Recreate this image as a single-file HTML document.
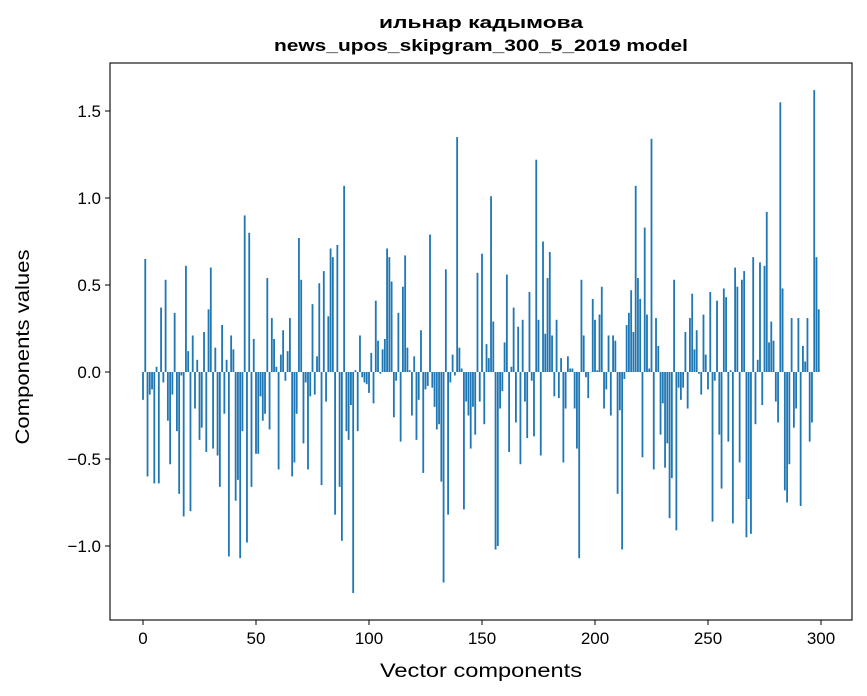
<!DOCTYPE html>
<html><head><meta charset="utf-8"><style>
html,body{margin:0;padding:0;background:#fff;}
svg{display:block;font-family:"Liberation Sans","DejaVu Sans",sans-serif;}
</style></head><body>
<svg id="chart" width="867" height="696" viewBox="0 0 867 696" xmlns="http://www.w3.org/2000/svg">
<rect width="867" height="696" fill="#fff"/>
<text x="481" y="28" text-anchor="middle" font-size="16.5" font-weight="bold" textLength="204" lengthAdjust="spacingAndGlyphs">ильнар кадымова</text>
<text x="481" y="51" text-anchor="middle" font-size="16.5" font-weight="bold" textLength="414" lengthAdjust="spacingAndGlyphs">news_upos_skipgram_300_5_2019 model</text>
<g id="bars"></g>
<g id="axes"></g>
<rect x="110" y="63" width="742" height="557" fill="none" stroke="#000" stroke-width="1.1"/>
<text x="481" y="677" text-anchor="middle" font-size="19" textLength="202" lengthAdjust="spacingAndGlyphs">Vector components</text>
<text transform="translate(29,347) rotate(-90)" text-anchor="middle" font-size="19" textLength="195" lengthAdjust="spacingAndGlyphs">Components values</text>
</svg>
<script>
const values = [
-0.16,0.65,-0.60,-0.13,-0.10,-0.64,0.03,-0.64,0.37,-0.06,
0.53,-0.28,-0.53,-0.13,0.34,-0.34,-0.70,-0.02,-0.83,0.61,
0.12,-0.80,0.21,-0.21,0.07,-0.39,-0.32,0.23,-0.46,0.36,
0.60,-0.44,0.14,-0.48,-0.66,0.27,-0.24,0.07,-1.06,0.21,
0.13,-0.74,-0.62,-1.07,-0.34,0.90,-0.98,0.80,-0.66,0.19,
-0.47,-0.47,-0.14,-0.28,-0.24,0.54,-0.33,0.31,0.19,0.03,
-0.56,0.10,0.24,-0.05,0.12,0.31,-0.60,-0.52,-0.24,0.77,
0.53,-0.41,-0.06,-0.56,-0.14,0.39,-0.13,0.09,0.51,-0.65,
0.58,-0.17,0.32,0.71,0.66,-0.82,0.73,-0.66,-0.97,1.07,
-0.34,-0.39,-0.19,-1.27,0.01,-0.34,0.21,-0.03,-0.06,-0.07,
-0.12,0.11,-0.18,0.41,0.18,-0.01,0.13,0.19,0.71,0.66,
0.52,-0.26,-0.05,0.34,-0.40,0.49,0.67,0.14,0.01,-0.25,
0.09,-0.39,-0.16,0.24,-0.58,-0.10,-0.08,0.79,-0.09,-0.20,
-0.33,-0.30,-0.63,-1.21,0.59,-0.82,-0.06,0.10,-0.02,1.35,
0.14,0.02,-0.79,-0.17,-0.25,-0.44,-0.20,-0.36,0.57,-0.17,
0.68,-0.30,0.16,0.08,1.01,0.29,-1.02,-1.00,-0.21,-0.11,
0.17,0.56,-0.46,0.03,0.37,-0.29,0.26,-0.53,0.30,-0.17,
-0.38,0.46,-0.05,-0.37,1.22,0.30,-0.48,0.75,0.22,0.54,
0.69,0.21,-0.14,0.30,-0.15,0.08,-0.52,-0.21,0.09,0.02,
0.02,-0.21,-0.44,-1.07,0.53,0.21,-0.03,-0.15,0.00,0.42,
0.30,0.01,0.33,0.49,-0.21,-0.10,0.21,-0.25,0.21,0.18,
-0.70,-0.22,-1.02,-0.04,0.27,0.34,0.47,0.23,1.07,0.54,
0.42,-0.49,0.83,0.33,0.02,1.34,-0.56,0.31,0.15,-0.36,
-0.18,-0.55,-0.41,-0.84,-0.61,0.53,-0.91,-0.09,-0.16,-0.09,
0.23,-0.21,0.31,0.45,0.13,0.24,-0.01,-0.13,0.33,0.10,
-0.10,0.46,-0.86,-0.05,0.41,-0.36,-0.67,0.48,0.43,-0.40,
0.01,-0.87,0.60,0.49,-0.52,0.53,0.58,-0.95,-0.73,-0.93,
0.66,-0.30,0.07,0.63,-0.19,0.61,0.92,0.17,0.29,0.18,
-0.17,-0.29,1.55,0.48,-0.68,-0.75,-0.53,0.31,-0.32,-0.21,
0.31,-0.77,0.15,0.06,0.31,-0.40,-0.29,1.62,0.66,0.36
];
const xTicks = [0,50,100,150,200,250,300];
const yTicks = [-1.0,-0.5,0.0,0.5,1.0,1.5];
const yTickLabels = ["\u22121.0","\u22120.5","0.0","0.5","1.0","1.5"];

const NS="http://www.w3.org/2000/svg";
const xScale = v => 143 + v*2.26;
const yScale = v => 372 - v*174;
const barW = 0.8*2.26;
const bars=document.getElementById('bars');
values.forEach((v,i)=>{
  const r=document.createElementNS(NS,'rect');
  const y0=yScale(0), y1=yScale(v);
  r.setAttribute('x',xScale(i)-barW/2);
  r.setAttribute('y',Math.min(y0,y1));
  r.setAttribute('width',barW);
  r.setAttribute('height',Math.max(Math.abs(y1-y0),0.3));
  r.setAttribute('fill','#1f77b4');
  
  
  bars.appendChild(r);
});
const axes=document.getElementById('axes');
xTicks.forEach(t=>{
  const x=xScale(t);
  const l=document.createElementNS(NS,'line');
  l.setAttribute('x1',x);l.setAttribute('x2',x);l.setAttribute('y1',620);l.setAttribute('y2',625);
  l.setAttribute('stroke','#000');
  
  
  axes.appendChild(l);
  const tx=document.createElementNS(NS,'text');
  tx.setAttribute('x',x);tx.setAttribute('y',644);tx.setAttribute('text-anchor','middle');tx.setAttribute('font-size','17');
  tx.textContent=t;
  
  
  axes.appendChild(tx);
});
yTicks.forEach((t,i)=>{
  const y=yScale(t);
  const l=document.createElementNS(NS,'line');
  l.setAttribute('x1',105);l.setAttribute('x2',110);l.setAttribute('y1',y);l.setAttribute('y2',y);
  l.setAttribute('stroke','#000');
  
  
  axes.appendChild(l);
  const tx=document.createElementNS(NS,'text');
  tx.setAttribute('x',101);tx.setAttribute('y',y+6);tx.setAttribute('text-anchor','end');tx.setAttribute('font-size','17');
  tx.textContent=yTickLabels[i];
  
  
  axes.appendChild(tx);
});
</script>
</body></html>
